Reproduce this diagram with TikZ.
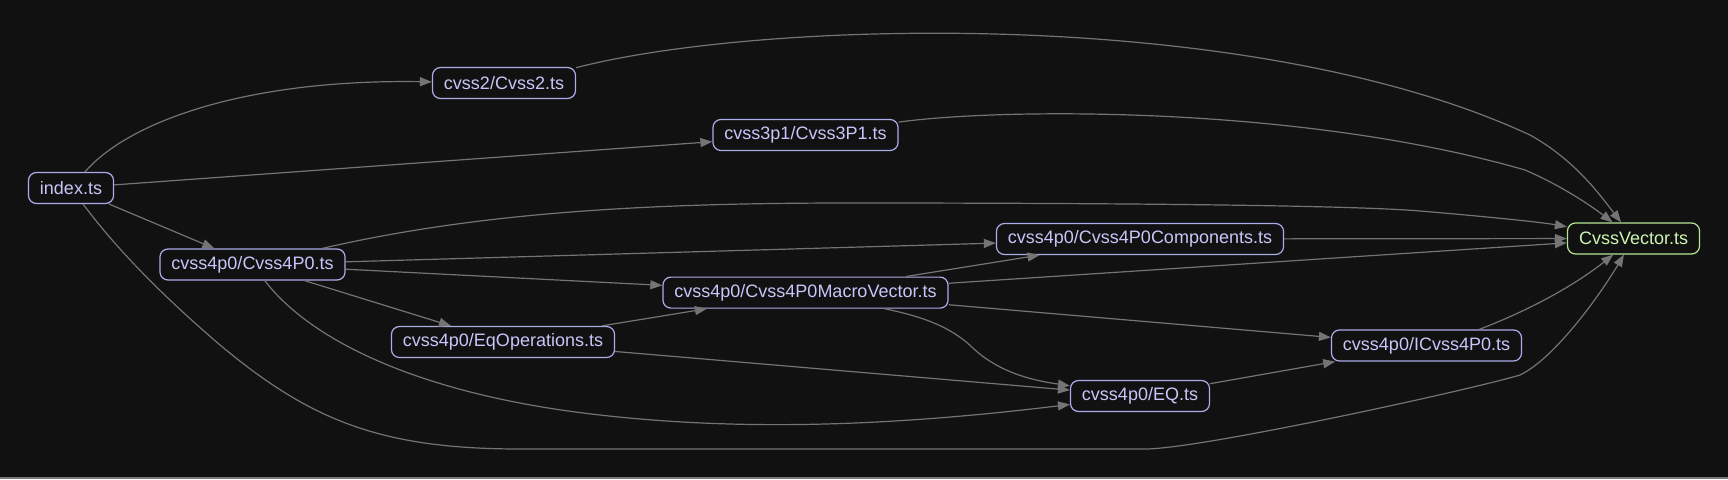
\documentclass[tikz,border=0pt]{standalone}
\usepackage{fontspec}
\setmainfont{Liberation Sans}
\usetikzlibrary{arrows.meta}
\definecolor{bg}{HTML}{111111}
\definecolor{nodeborder}{RGB}{172,172,234}
\definecolor{nodetext}{RGB}{198,198,250}
\definecolor{greenborder}{RGB}{180,230,148}
\definecolor{greentext}{RGB}{205,245,178}
\definecolor{edgecol}{HTML}{747474}
\definecolor{bottomline}{HTML}{7a7a7a}
\tikzset{
  filebox/.style={draw=nodeborder, text=nodetext, line width=1.2pt, rounded corners=8pt,
    inner xsep=11.5pt, inner ysep=0pt, minimum height=31pt,
    font=\fontsize{18}{21}\selectfont, fill=bg},
  greenbox/.style={filebox, draw=greenborder, text=greentext},
  dep/.style={draw=edgecol, line width=1.2pt, -{Triangle[length=12pt,width=9pt]}},
}
\begin{document}
\begin{tikzpicture}[x=1pt,y=-1pt]
\path[use as bounding box, fill=bg] (0,0) rectangle (1728,479);
\fill[bottomline] (0,477.3) rectangle (1728,479);

\node[filebox] (index) at (71,188) {index.ts};
\node[filebox] (cvss2) at (504,83) {cvss2/Cvss2.ts};
\node[filebox] (cvss3p1) at (805.5,135) {cvss3p1/Cvss3P1.ts};
\node[filebox] (cvss4p0) at (252.5,264.5) {cvss4p0/Cvss4P0.ts};
\node[filebox] (components) at (1140,239) {cvss4p0/Cvss4P0Components.ts};
\node[greenbox] (cvssvector) at (1633.5,238.5) {CvssVector.ts};
\node[filebox] (macro) at (805.5,292.6) {cvss4p0/Cvss4P0MacroVector.ts};
\node[filebox] (eqops) at (503,342) {cvss4p0/EqOperations.ts};
\node[filebox] (icvss) at (1426.5,345.5) {cvss4p0/ICvss4P0.ts};
\node[filebox] (eq) at (1140,396) {cvss4p0/EQ.ts};

% index
\draw[dep] (index) .. controls (130,120) and (250,79) .. (cvss2);
\draw[dep] (index) -- (cvss3p1);
\draw[dep] (index) -- (cvss4p0);
\draw[dep] (index) .. controls (110,240) and (150,285) .. (220,345)
  .. controls (310,420) and (380,449) .. (520,449) -- (1145,449)
  .. controls (1200,449) and (1470,390) .. (1520,375)
  .. controls (1555,358) and (1600,295) .. (cvssvector);

% cvss2, cvss3p1
\draw[dep] (cvss2.12) .. controls (760,20) and (1250,5) .. (1530,135)
  .. controls (1575,160) and (1600,195) .. (cvssvector);
\draw[dep] (cvss3p1) .. controls (1000,108) and (1300,105) .. (1525,170)
  .. controls (1560,185) and (1590,205) .. (cvssvector);

% Cvss4P0
\draw[dep] (cvss4p0) .. controls (480,212) and (650,203) .. (850,203)
  .. controls (1100,203) and (1350,205) .. (1420,211)
  .. controls (1480,216) and (1540,222) .. (cvssvector);
\draw[dep] (cvss4p0) -- (components);
\draw[dep] (cvss4p0) -- (macro);
\draw[dep] (cvss4p0) -- (eqops);
\draw[dep] (cvss4p0) .. controls (310,340) and (420,395) .. (600,415)
  .. controls (750,432) and (900,425) .. (eq);

% others
\draw[dep] (components) -- (cvssvector);
\draw[dep] (macro) -- (components);
\draw[dep] (macro) -- (cvssvector);
\draw[dep] (macro) -- (icvss);
\draw[dep] (macro) .. controls (930,318) and (955,330) .. (975,350)
  .. controls (1000,372) and (1030,380) .. (eq);
\draw[dep] (eqops) -- (macro);
\draw[dep] (eqops) -- (eq);
\draw[dep] (eq) -- (icvss);
\draw[dep] (icvss.17) .. controls (1530,310) and (1575,285) .. (cvssvector);
\end{tikzpicture}
\end{document}
